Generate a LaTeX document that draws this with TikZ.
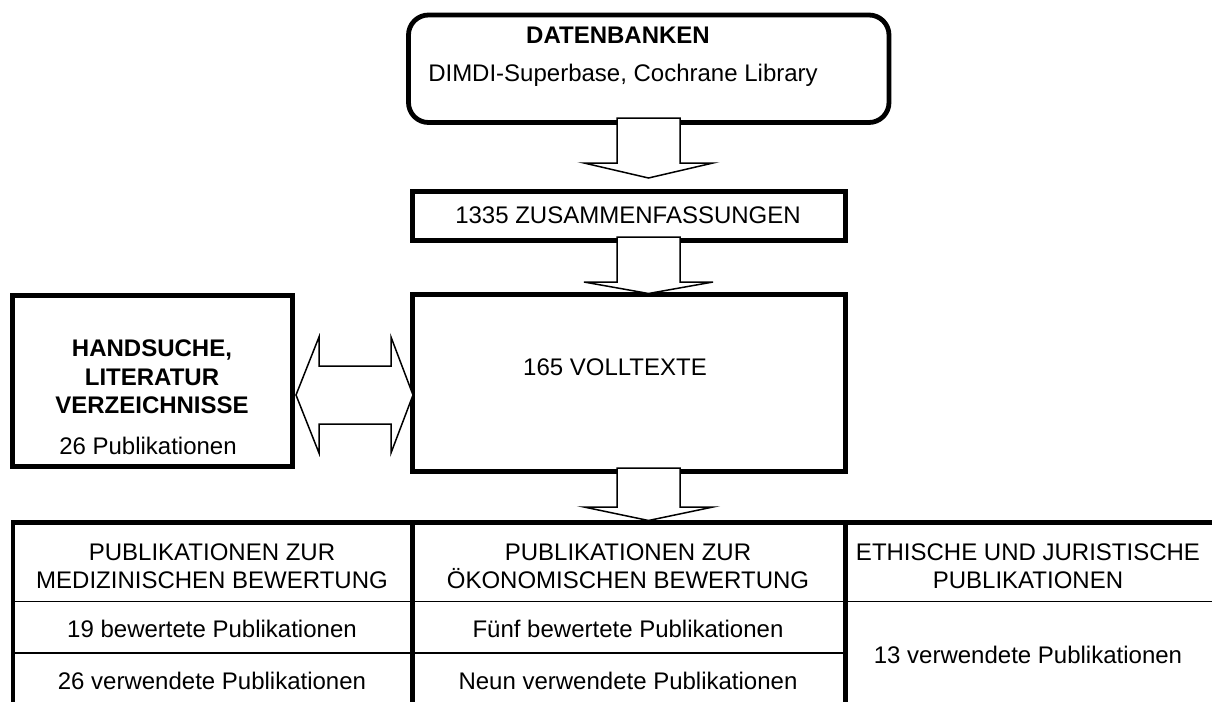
\documentclass[tikz,border=0pt]{standalone}
\usepackage{fontspec}
\setmainfont{Liberation Sans}
\begin{document}
\begin{tikzpicture}[x=0.5pt,y=-0.5pt,
  box/.style={draw, line width=2.4pt, inner sep=0pt, fill=white},
  blk/.style={draw, line width=0.75pt, fill=white, line join=miter},
  txt/.style={inner sep=0pt, anchor=base, font=\fontsize{12pt}{14pt}\selectfont},
  btxt/.style={inner sep=0pt, anchor=base, font=\fontsize{12pt}{14pt}\selectfont\bfseries},
  tline/.style={line width=2.2pt},
  tthin/.style={line width=0.6pt}]
\useasboundingbox (0,0) rectangle (1212,702);
% boxes
\node[box, rounded corners=10pt, minimum width=240.25pt, minimum height=53.75pt] (db) at (648.75,68.75) {};
\node[box, minimum width=216.5pt, minimum height=24.5pt] (zus) at (629,216) {};
\node[box, minimum width=216.5pt, minimum height=88.5pt] (voll) at (629,383) {};
\node[box, minimum width=140pt, minimum height=85.5pt] (hand) at (152.5,381) {};
% table
\draw[tline] (13,740) -- (13,522.5) -- (1240,522.5);
\draw[tline] (412.5,522.5) -- (412.5,740);
\draw[tline] (845.5,522.5) -- (845.5,740);
\draw[tthin] (13,601.5) -- (1240,601.5);
\draw[tthin] (13,653) -- (845.5,653);
% block arrows
\draw[blk] (617,118) -- (617,163) -- (584,163) -- (648.5,178) -- (713,163) -- (680,163) -- (680,118) -- cycle;
\draw[blk] (617,237) -- (617,282) -- (584,282) -- (648.5,293.5) -- (713,282) -- (680,282) -- (680,237) -- cycle;
\draw[blk] (617,468) -- (617,507) -- (584,507) -- (648.5,520.5) -- (713,507) -- (680,507) -- (680,468) -- cycle;
\draw[blk] (296,395) -- (319,337) -- (319,366) -- (391,366) -- (391,337) -- (413,395) -- (391,453) -- (391,424) -- (319,424) -- (319,453) -- cycle;
% texts
\node[btxt] (t1) at (618,43.5) {DATENBANKEN};
\node[txt] (t2) at (623,81.5) {DIMDI-Superbase, Cochrane Library};
\node[txt] (t3) at (628,223.5) {1335 ZUSAMMENFASSUNGEN};
\node[txt] (t4) at (615,375.5) {165 VOLLTEXTE};
\node[btxt] (h1) at (152,356.5) {HANDSUCHE,};
\node[btxt] (h2) at (152,385.5) {LITERATUR};
\node[btxt] (h3) at (152,413.5) {VERZEICHNISSE};
\node[txt] (h4) at (148,454.5) {26 Publikationen};
\node[txt] (a1) at (212,560.5) {PUBLIKATIONEN ZUR};
\node[txt] (a2) at (212,588.5) {MEDIZINISCHEN BEWERTUNG};
\node[txt] (a3) at (212,637.5) {19 bewertete Publikationen};
\node[txt] (a4) at (212,689.5) {26 verwendete Publikationen};
\node[txt] (b1) at (628,560.5) {PUBLIKATIONEN ZUR};
\node[txt] (b2) at (628,588.5) {ÖKONOMISCHEN BEWERTUNG};
\node[txt] (b3) at (628,637.5) {Fünf bewertete Publikationen};
\node[txt] (b4) at (628,689.5) {Neun verwendete Publikationen};
\node[txt] (c1) at (1028,560.5) {ETHISCHE UND JURISTISCHE};
\node[txt] (c2) at (1028,588.5) {PUBLIKATIONEN};
\node[txt] (c3) at (1028,663.5) {13 verwendete Publikationen};
\end{tikzpicture}
\end{document}
